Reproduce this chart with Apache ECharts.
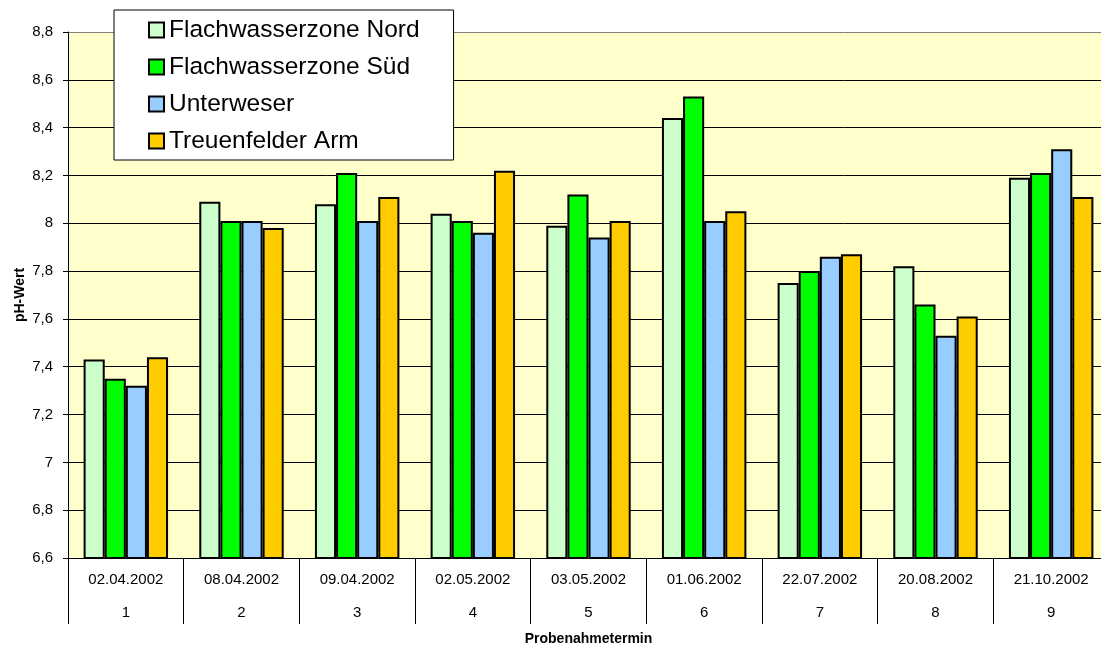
<!DOCTYPE html>
<html>
<head>
<meta charset="utf-8">
<script src="https://cdn.jsdelivr.net/npm/echarts@6/dist/echarts.min.js"></script>
<style>
    html, body { margin: 0; padding: 0; background: #fff; }
    #main { width: 1101px; height: 647px; }
</style>
</head>
<body>
<div id="main"></div>
<script>
// Probenahmetermine (Datum + laufende Nummer)
const dates = ['02.04.2002', '08.04.2002', '09.04.2002', '02.05.2002', '03.05.2002',
    '01.06.2002', '22.07.2002', '20.08.2002', '21.10.2002'];
const termNumbers = ['1', '2', '3', '4', '5', '6', '7', '8', '9'];

const seriesNames = ['Flachwasserzone Nord', 'Flachwasserzone Süd', 'Unterweser', 'Treuenfelder Arm'];
const seriesColors = ['#CCFFCC', '#00FF00', '#99CCFF', '#FFCC00'];

// pH-Werte
const nordValues = [7.43, 8.09, 8.08, 8.04, 7.99, 8.44, 7.75, 7.82, 8.19];
const suedValues = [7.35, 8.01, 8.21, 8.01, 8.12, 8.53, 7.80, 7.66, 8.21];
const unterweserValues = [7.32, 8.01, 8.01, 7.96, 7.94, 8.01, 7.86, 7.53, 8.31];
const treuenfelderValues = [7.44, 7.98, 8.11, 8.22, 8.01, 8.05, 7.87, 7.61, 8.11];

const yMin = 6.6;
const yMax = 8.8;
const yStep = 0.2;

const font = '"Liberation Sans", Arial, sans-serif';

var myChart = echarts.init(document.getElementById('main'));

const allValues = [nordValues, suedValues, unterweserValues, treuenfelderValues];

// split lines: all black, the top one (plot border) grey
const lineCount = Math.round((yMax - yMin) / yStep) + 1;
const splitColors = [];
for (let i = 0; i < lineCount; i++) {
    splitColors.push(i === lineCount - 1 ? '#808080' : '#000');
}

option = {
    animation: false,
    textStyle: {
        fontFamily: font
    },
    grid: {
        left: 68,
        top: 32,
        width: 1041,
        height: 526,
        outerBoundsMode: 'none',
        show: true,
        backgroundColor: '#FFFFCC',
        borderWidth: 0
    },
    legend: {
        orient: 'vertical',
        left: 114,
        top: 10,
        padding: [7, 34, 6, 34],
        itemWidth: 15,
        itemHeight: 15,
        itemGap: 11,
        icon: 'rect',
        backgroundColor: '#fff',
        borderColor: '#000',
        borderWidth: 1,
        selectedMode: false,
        textStyle: {
            fontFamily: font,
            fontSize: 24.5,
            lineHeight: 26,
            color: '#000'
        },
        data: seriesNames
    },
    xAxis: {
        type: 'category',
        data: dates,
        name: 'Probenahmetermin',
        nameLocation: 'middle',
        nameGap: 74,
        nameMoveOverlap: false,
        nameTextStyle: {
            fontFamily: font,
            fontSize: 14,
            fontWeight: 'bold',
            color: '#000'
        },
        axisLine: {
            lineStyle: { color: '#000', width: 1 }
        },
        axisTick: {
            show: true,
            length: 66,
            interval: 0,
            lineStyle: { color: '#000', width: 1 }
        },
        axisLabel: {
            interval: 0,
            margin: 5,
            fontFamily: font,
            fontSize: 15,
            lineHeight: 33,
            color: '#000',
            formatter: function (value, index) {
                return value + '\n' + termNumbers[index];
            }
        },
        splitLine: { show: false }
    },
    yAxis: {
        type: 'value',
        min: yMin,
        max: yMax,
        interval: yStep,
        name: 'pH-Wert',
        nameLocation: 'middle',
        nameGap: 41,
        nameMoveOverlap: false,
        nameTextStyle: {
            fontFamily: font,
            fontSize: 14,
            fontWeight: 'bold',
            color: '#000'
        },
        axisLine: {
            show: true,
            lineStyle: { color: '#000', width: 1 }
        },
        axisTick: {
            show: true,
            length: 5,
            lineStyle: { color: '#000' }
        },
        axisLabel: {
            margin: 15,
            fontFamily: font,
            fontSize: 15,
            color: '#000',
            formatter: function (v) {
                return String(Math.round(v * 10) / 10).replace('.', ',');
            }
        },
        splitLine: {
            show: true,
            lineStyle: { color: splitColors, width: 1 }
        }
    },
    series: seriesNames.map(function (name, i) {
        return {
            name: name,
            type: 'bar',
            data: allValues[i],
            barGap: '0%',
            barCategoryGap: '27%',
            itemStyle: {
                color: seriesColors[i],
                borderColor: '#000',
                borderWidth: 2
            },
            emphasis: { disabled: true }
        };
    })
};
option && myChart.setOption(option);
</script>
</body>
</html>
